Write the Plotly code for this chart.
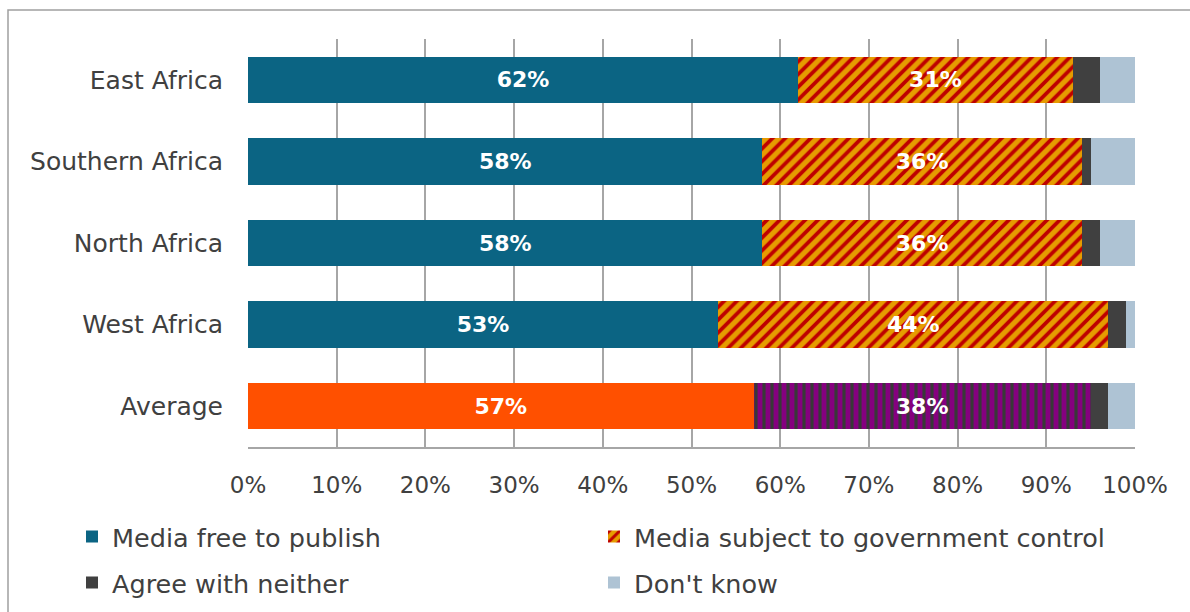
import plotly.graph_objects as go

# Regions (top to bottom) and answer shares in percent
categories = ["East Africa", "Southern Africa", "North Africa", "West Africa", "Average"]
free_to_publish = [62, 58, 58, 53, 57]
government_control = [31, 36, 36, 44, 38]
agree_neither = [3, 1, 2, 2, 2]
dont_know = [4, 5, 4, 1, 3]
x_ticks = [0, 10, 20, 30, 40, 50, 60, 70, 80, 90, 100]
x_tick_labels = [f"{t}%" for t in x_ticks]

FONT = "DejaVu Sans"
TEXT_COLOR = "#404040"
TEAL = "#0B6483"
ORANGE_RED = "#FF5000"
ORANGE = "#E69C00"
STRIPE_RED = "#BE0000"
PURPLE = "#85007F"
STRIPE_DARK = "#383838"
DARK = "#404040"
LIGHT = "#AEC3D4"

W, H = 1190, 612
M_L, M_R, M_T, M_B = 248, 55, 39, 165
PW, PH = W - M_L - M_R, H - M_T - M_B

# the regional rows and the overall average row use different fills
reg = slice(0, 4)
avg = slice(4, 5)

label_font = dict(family=FONT, size=22, color="white", weight="bold")


def pct(vals):
    return [f"{v}%" for v in vals]


fig = go.Figure()

# Media free to publish
fig.add_trace(go.Bar(
    name="Media free to publish", legendgroup="free",
    y=categories[reg], x=free_to_publish[reg], orientation="h",
    marker=dict(color=TEAL, line=dict(width=0)),
    text=pct(free_to_publish[reg]), textposition="inside", insidetextanchor="middle",
    textfont=label_font, legend="legend",
))
fig.add_trace(go.Bar(
    name="Media free to publish", legendgroup="free", showlegend=False,
    y=categories[avg], x=free_to_publish[avg], orientation="h",
    marker=dict(color=ORANGE_RED, line=dict(width=0)),
    text=pct(free_to_publish[avg]), textposition="inside", insidetextanchor="middle",
    textfont=label_font, legend="legend",
))

# Media subject to government control
fig.add_trace(go.Bar(
    name="Media subject to government control", legendgroup="control",
    y=categories[reg], x=government_control[reg], orientation="h",
    marker=dict(
        color=ORANGE, line=dict(width=0),
        pattern=dict(shape="/", fgcolor=STRIPE_RED, bgcolor=ORANGE,
                     size=9, solidity=0.42, fillmode="replace"),
    ),
    text=pct(government_control[reg]), textposition="inside", insidetextanchor="middle",
    textfont=label_font, legend="legend",
))
fig.add_trace(go.Bar(
    name="Media subject to government control", legendgroup="control", showlegend=False,
    y=categories[avg], x=government_control[avg], orientation="h",
    marker=dict(
        color=PURPLE, line=dict(width=0),
        pattern=dict(shape="|", fgcolor=STRIPE_DARK, bgcolor=PURPLE,
                     size=8, solidity=0.4, fillmode="replace"),
    ),
    text=pct(government_control[avg]), textposition="inside", insidetextanchor="middle",
    textfont=label_font, legend="legend",
))

# Agree with neither / Don't know
fig.add_trace(go.Bar(
    name="Agree with neither",
    y=categories, x=agree_neither, orientation="h",
    marker=dict(color=DARK, line=dict(width=0)),
    legend="legend2",
))
fig.add_trace(go.Bar(
    name="Don't know",
    y=categories, x=dont_know, orientation="h",
    marker=dict(color=LIGHT, line=dict(width=0)),
    legend="legend2",
))


def px_x(p):
    return (p - M_L) / PW


def px_y(p):
    return (H - M_B - p) / PH


legend_common = dict(
    orientation="h",
    xanchor="left", yanchor="middle",
    font=dict(family=FONT, size=25.5, color=TEXT_COLOR),
    entrywidth=477, entrywidthmode="pixels",
    itemwidth=30,
    bgcolor="rgba(0,0,0,0)",
    traceorder="normal",
)

fig.update_layout(
    width=W, height=H,
    margin=dict(l=M_L, r=M_R, t=M_T, b=M_B, autoexpand=False),
    paper_bgcolor="white", plot_bgcolor="white",
    barmode="stack", bargap=0.43,
    font=dict(family=FONT, color=TEXT_COLOR),
    xaxis=dict(
        range=[0, 100], tickvals=x_ticks, ticktext=x_tick_labels,
        showgrid=True, gridcolor="#A6A6A6", gridwidth=1.5,
        showline=True, linecolor="#A6A6A6", linewidth=1.5,
        zeroline=False, ticks="", ticklabelstandoff=17,
        tickfont=dict(family=FONT, size=23, color=TEXT_COLOR),
        fixedrange=True,
    ),
    yaxis=dict(
        categoryorder="array", categoryarray=categories,
        autorange="reversed",
        showgrid=False, showline=False, zeroline=False,
        ticks="", ticklabelstandoff=24,
        tickfont=dict(family=FONT, size=25, color=TEXT_COLOR),
        fixedrange=True,
    ),
    legend=dict(x=px_x(72), y=px_y(537), **legend_common),
    legend2=dict(x=px_x(72), y=px_y(583), **legend_common),
    showlegend=True,
    shapes=[
        # outer frame (left and top edges)
        dict(type="path", xref="paper", yref="paper",
             path=f"M {px_x(8)} {px_y(640)} L {px_x(8)} {px_y(10)} L {px_x(1220)} {px_y(10)}",
             line=dict(color="#A0A0A0", width=1.5), layer="below"),
    ],
)

fig.write_html("out.html")
